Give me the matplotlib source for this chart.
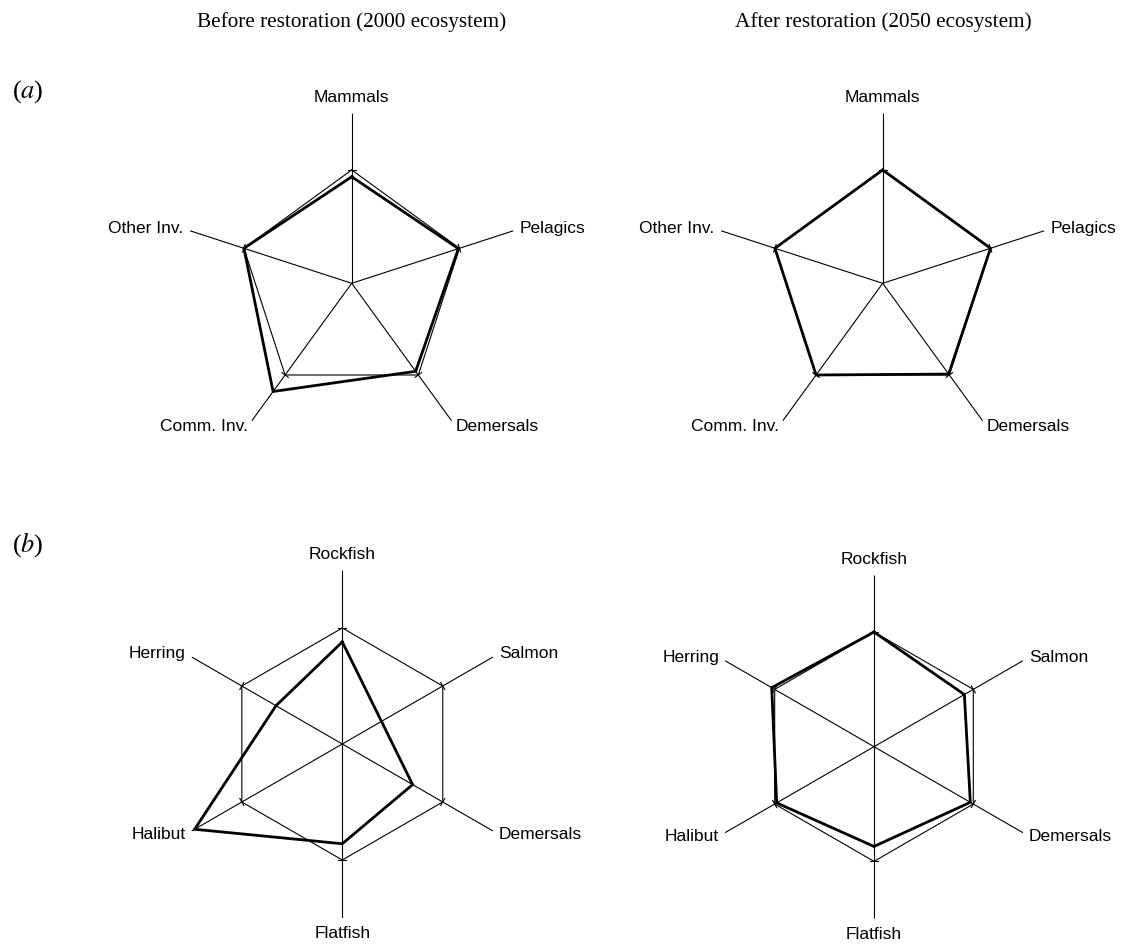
import numpy as np
import matplotlib
matplotlib.use("Agg")
import matplotlib.pyplot as plt

# ---------------- data ----------------
col_titles = ["Before restoration (2000 ecosystem)", "After restoration (2050 ecosystem)"]
panel_tags = ["a", "b"]

groups_a = ["Mammals", "Pelagics", "Demersals", "Comm. Inv.", "Other Inv."]
before_a = [0.94, 0.99, 0.96, 1.18, 1.00]
after_a = [1.00, 1.00, 0.99, 1.00, 1.00]

groups_b = ["Rockfish", "Salmon", "Demersals", "Flatfish", "Halibut", "Herring"]
before_b = [0.88, 0.39, 0.70, 0.86, 1.47, 0.66]
after_b = [1.00, 0.91, 0.97, 0.87, 0.98, 1.03]

reference_level = 1.0
axis_max = 1.5

W, H = 1126, 949
fig = plt.figure(figsize=(W / 100, H / 100), dpi=100)

LABEL_FONT = dict(family="Liberation Sans", size=12.5)


def radar(center_px, radius_px, groups, values):
    cx, cy = center_px
    d = 2 * radius_px
    ax = fig.add_axes([(cx - radius_px) / W, 1 - (cy + radius_px) / H, d / W, d / H],
                      projection="polar")
    ax.set_theta_offset(np.pi / 2)
    ax.set_theta_direction(-1)
    ax.set_ylim(0, axis_max)
    ax.set_axis_off()
    n = len(groups)
    theta = np.arange(n) * 2 * np.pi / n
    # spokes
    for t in theta:
        ax.plot([t, t], [0, axis_max], color="black", lw=0.8, solid_capstyle="butt")
    # reference polygon
    tc = np.append(theta, theta[0])
    ref = np.full(n + 1, reference_level)
    ax.plot(tc, ref, color="black", lw=0.8)
    # small ticks at reference level
    dl = 0.035
    for t in theta:
        ax.plot([t - dl, t + dl], [reference_level / np.cos(dl)] * 2, color="black", lw=0.8)
    # data polygon
    v = np.append(values, values[0])
    ax.plot(tc, v, color="black", lw=2.0, solid_joinstyle="miter")
    # labels
    for t, g in zip(theta, groups):
        ang = np.pi / 2 - t
        c, s = np.cos(ang), np.sin(ang)
        if abs(c) < 1e-6:
            ha = "center"
            va = "bottom" if s > 0 else "top"
            r = axis_max + 0.07
        else:
            ha = "left" if c > 0 else "right"
            va = "center"
            r = axis_max + 0.06
        ax.text(t, r, g, ha=ha, va=va, **LABEL_FONT)
    return ax


radar((351.7, 283.3), 170, groups_a, before_a)
radar((882.7, 283.3), 170, groups_a, after_a)
radar((342.3, 744.0), 174, groups_b, before_b)
radar((874.0, 746.7), 172, groups_b, after_b)

# column titles
plt.rcParams["mathtext.fontset"] = "stix"
fig.text(352 / W, 1 - 22 / H, col_titles[0], ha="center", va="center",
         family="Liberation Serif", size=15.3)
fig.text(883 / W, 1 - 22 / H, col_titles[1], ha="center", va="center",
         family="Liberation Serif", size=15.3)

# panel tags
fig.text(12 / W, 1 - 92 / H, "(" + r"$\mathit{" + panel_tags[0] + "}$" + ")", ha="left", va="center",
         family="Liberation Serif", size=19)
fig.text(12 / W, 1 - 545 / H, "(" + r"$\mathit{" + panel_tags[1] + "}$" + ")", ha="left", va="center",
         family="Liberation Serif", size=19)

fig.savefig("out.png", dpi=100, facecolor="white")
